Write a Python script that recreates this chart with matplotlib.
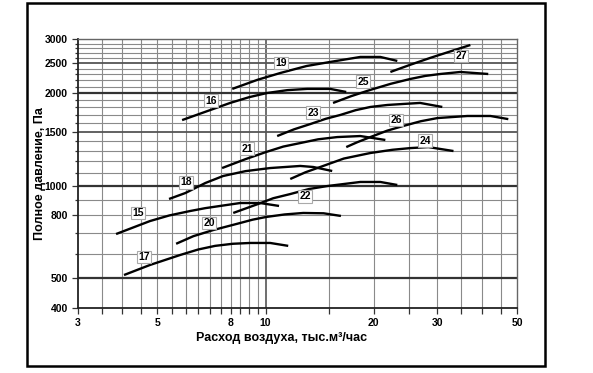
import numpy as np
import matplotlib.pyplot as plt
from matplotlib.patches import Rectangle

plt.rcParams['font.family'] = ['Liberation Sans', 'DejaVu Sans']
plt.rcParams['font.weight'] = 'bold'

# fan curves: air flow (thous. m3/h) vs total pressure (Pa)
x15 = [3.84, 4.77, 5.4, 6.17, 6.8, 7.48, 8.50, 9.66, 10.9]
y15 = [696, 767, 800, 827, 845, 859, 878, 878, 859]
x17 = [4.04, 4.77, 5.79, 6.5, 7.24, 8.1, 9.06, 10.3, 11.56]
y17 = [512, 552, 595, 620, 637, 647, 651, 651, 637]
x20 = [5.64, 6.3, 7.15, 8.50, 9.2, 10.04, 11.3, 12.73, 14.5, 16.2]
y20 = [647, 685, 717, 756, 775, 791, 806, 815, 813, 797]
x22 = [8.13, 9.54, 10.5, 11.71, 13.2, 14.84, 18.34, 20.85, 23.24]
y22 = [815, 872, 910, 939, 975, 997, 1028, 1028, 1005]
x18 = [5.39, 5.98, 6.8, 7.62, 8.8, 10.3, 12.49, 13.57, 15.32]
y18 = [905, 946, 1020, 1075, 1115, 1141, 1159, 1150, 1116]
x21 = [7.57, 8.8, 10.04, 11.2, 12.49, 14.0, 15.82, 18.34, 21.53]
y21 = [1141, 1220, 1287, 1340, 1376, 1415, 1439, 1450, 1408]
x24 = [11.71, 12.9, 14.19, 16.5, 19.56, 22.5, 25.27, 28.36, 33.3]
y24 = [1051, 1105, 1150, 1225, 1277, 1308, 1325, 1335, 1296]
x23 = [10.77, 12.0, 13.31, 14.7, 16.13, 17.8, 19.56, 21.8, 24.16, 26.9, 31.0]
y23 = [1450, 1525, 1586, 1650, 1698, 1760, 1803, 1830, 1844, 1858, 1803]
x26 = [16.76, 18.0, 19.56, 21.8, 24.16, 27.0, 30.04, 36.4, 42.2, 47.3]
y26 = [1335, 1385, 1439, 1510, 1564, 1620, 1659, 1685, 1685, 1646]
x16 = [5.86, 7.97, 9.0, 10.1, 11.5, 13.06, 15.13, 16.76]
y16 = [1634, 1858, 1940, 2002, 2045, 2064, 2064, 2017]
x19 = [8.08, 9.5, 11.0, 13.0, 15.13, 18.34, 20.85, 23.24]
y19 = [2064, 2210, 2326, 2450, 2526, 2622, 2622, 2545]
x25 = [15.4, 17.3, 19.56, 22.3, 25.27, 27.8, 30.6, 34.8, 41.6]
y25 = [1858, 1955, 2049, 2145, 2224, 2275, 2308, 2343, 2308]
x27 = [22.23, 25.3, 28.7, 37.1]
y27 = [2343, 2475, 2604, 2868]

names = ['15', '16', '17', '18', '19', '20', '21', '22', '23', '24', '25', '26', '27']
xs = [x15, x16, x17, x18, x19, x20, x21, x22, x23, x24, x25, x26, x27]
ys = [y15, y16, y17, y18, y19, y20, y21, y22, y23, y24, y25, y26, y27]
lab_x = [4.42, 7.06, 4.59, 6.01, 11.05, 6.97, 8.89, 12.9, 13.57, 27.8, 18.7, 23.1, 35.0]
lab_y = [815, 1890, 586, 1025, 2510, 757, 1320, 922, 1728, 1400, 2178, 1638, 2645]

xmajor = [3, 5, 8, 10, 20, 30, 50]
xgrid = [3.5, 4, 4.5, 5, 5.5, 6, 6.5, 7, 7.5, 8, 8.5, 9, 9.5, 10,
         15, 20, 25, 30, 35, 40, 45]
ymajor = [400, 500, 800, 1000, 1500, 2000, 2500, 3000]
ygrid = list(range(500, 3001, 100))

fig = plt.figure(figsize=(5.93, 3.73), dpi=100)
ax = fig.add_axes([0.1307, 0.1743, 0.7411, 0.7212])
ax.set_xscale('log')
ax.set_yscale('log')
ax.set_xlim(3, 50)
ax.set_ylim(400, 3000)

for v in xgrid:
    c = '#555555' if v == 10 else '#8a8a8a'
    ax.axvline(v, color=c, lw=1.2 if v == 10 else 0.8, zorder=1)
for v in ygrid:
    if v in (500, 1000, 2000):
        ax.axhline(v, color='#333333', lw=1.6, zorder=1)
    elif v in (1500, 2500):
        ax.axhline(v, color='#555555', lw=1.3, zorder=1)
    else:
        ax.axhline(v, color='#8a8a8a', lw=0.8, zorder=1)

for n, x, y, lx, ly in zip(names, xs, ys, lab_x, lab_y):
    ax.plot(x, y, color='black', lw=1.7, solid_capstyle='butt',
            solid_joinstyle='round', zorder=3)
    ax.text(lx, ly, n, fontsize=7.5, fontweight='bold', ha='center', va='center',
            zorder=4, bbox=dict(boxstyle='square,pad=0.12', fc='white',
                                ec='#aaaaaa', lw=0.8))

ax.set_xticks(xmajor)
ax.set_xticklabels([str(v) for v in xmajor])
ax.set_xticks(xgrid, minor=True)
ax.xaxis.set_minor_formatter(plt.NullFormatter())
ax.set_yticks(ymajor)
ax.set_yticklabels([str(v) for v in ymajor])
ax.set_yticks(ygrid, minor=True)
ax.yaxis.set_minor_formatter(plt.NullFormatter())
ax.tick_params(which='both', direction='out', labelsize=7.5, width=0.9,
               color='#333333', pad=3)
ax.tick_params(which='major', length=4)
ax.tick_params(which='minor', length=2.5)
ax.tick_params(axis='x', which='minor', length=4)

for s in ['left', 'bottom']:
    ax.spines[s].set_linewidth(1.3)
    ax.spines[s].set_color('#222222')
for s in ['top', 'right']:
    ax.spines[s].set_linewidth(1.0)
    ax.spines[s].set_color('#666666')

fig.text(0.474, 0.094, 'Расход воздуха, тыс.м³/час', ha='center', va='center',
         fontsize=9, fontweight='bold')
fig.text(0.068, 0.535, 'Полное давление, Па', ha='center', va='center',
         rotation=90, fontsize=9, fontweight='bold')

fig.add_artist(Rectangle((0.0455, 0.019), 0.8735, 0.973, transform=fig.transFigure,
                         fill=False, ec='black', lw=1.8))

fig.savefig('out.png', dpi=100)
